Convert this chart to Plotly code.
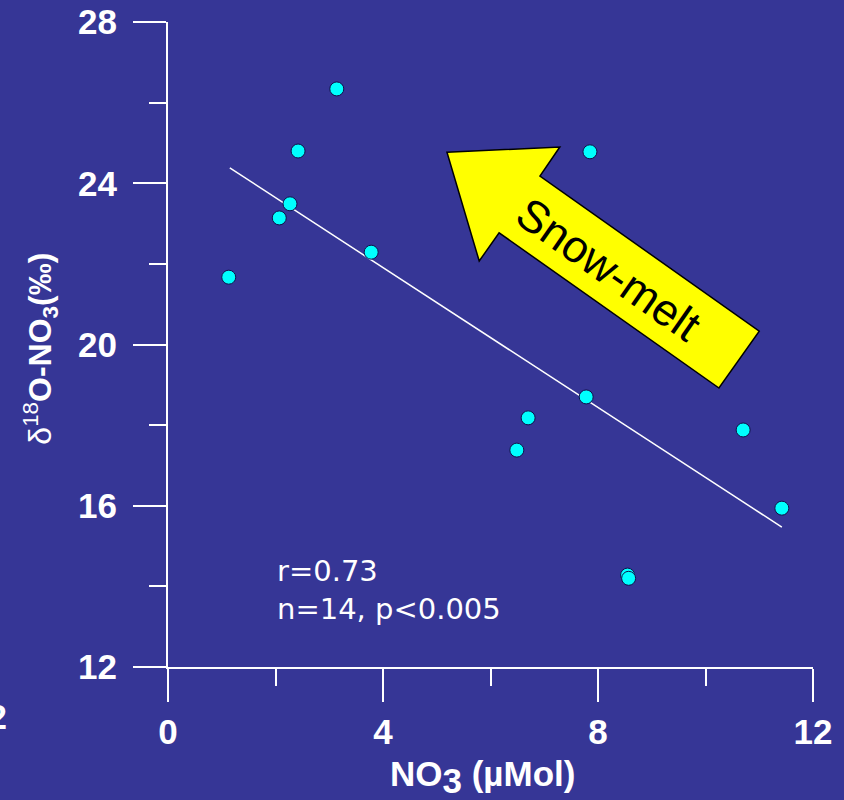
import plotly.graph_objects as go

# Data
no3 = [1.13, 2.07, 2.27, 2.42, 3.14, 3.78, 6.49, 6.70, 7.78, 7.85, 8.55, 8.57, 10.70, 11.42]
d18o = [21.67, 23.14, 23.49, 24.80, 26.34, 22.29, 17.38, 18.18, 18.70, 24.78, 14.28, 14.20, 17.88, 15.94]

fit_x = [1.15, 11.42]
fit_y = [24.38, 15.47]

x_ticks = [0, 4, 8, 12]
y_ticks = [12, 16, 20, 24, 28]

# arrow outline (data coordinates)
arrow_x = [5.19, 7.29, 6.92, 11.00, 10.25, 6.16, 5.79]
arrow_y = [24.77, 24.90, 24.18, 20.33, 18.92, 22.77, 22.07]

BG = "#363696"
FONT = "Liberation Sans, Arial, sans-serif"

fig = go.Figure()

fig.add_trace(go.Scatter(x=fit_x, y=fit_y, mode="lines",
                         line=dict(color="white", width=1.5), showlegend=False))
fig.add_trace(go.Scatter(x=no3, y=d18o, mode="markers",
                         marker=dict(size=14, color="#00FFFF",
                                     line=dict(color="#10104a", width=1)),
                         showlegend=False))

path = "M " + " L ".join(f"{x},{y}" for x, y in zip(arrow_x, arrow_y)) + " Z"
fig.add_shape(type="path", path=path, xref="x", yref="y",
              fillcolor="#FFFF00", line=dict(color="black", width=1.5), layer="above")

fig.add_annotation(x=8.2, y=21.85, xref="x", yref="y", text="Snow-melt",
                   showarrow=False, textangle=35,
                   font=dict(family=FONT, size=45, color="black"))

fig.add_annotation(x=1.99, y=14.85, xref="x", yref="y", xanchor="left", yanchor="top",
                   text="r=0.73<br>n=14, p&lt;0.005", align="left", showarrow=False,
                   font=dict(family="DejaVu Sans, sans-serif", size=29, color="white"))

fig.add_annotation(x=0.488, y=-0.1705, xref="paper", yref="paper",
                   text="<b>NO<sub><span style='font-size:35px'>3</span></sub> (µMol)</b>",
                   showarrow=False, xanchor="center", yanchor="middle",
                   font=dict(family=FONT, size=35, color="white"))
fig.add_annotation(x=-0.198, y=0.494, xref="paper", yref="paper",
                   text="δ<sup>18</sup><b>O-NO<sub>3</sub>(‰)</b>", showarrow=False,
                   textangle=-90, xanchor="center", yanchor="middle",
                   font=dict(family=FONT, size=32, color="white"))
fig.add_annotation(x=-0.2465, y=-0.076, xref="paper", yref="paper",
                   text="<b>12</b>", showarrow=False, xanchor="right", yanchor="middle",
                   font=dict(family=FONT, size=35, color="white"))

axis_common = dict(showgrid=False, zeroline=False, showline=True, linecolor="white",
                   linewidth=2, ticks="outside", ticklen=33, tickwidth=2, tickcolor="white",
                   tickfont=dict(family=FONT, size=35, color="white"), automargin=False,
                   minor=dict(ticks="outside", ticklen=17, tickwidth=2, tickcolor="white", dtick=2))

fig.update_xaxes(range=[0, 12], tickvals=x_ticks, ticktext=[f"<b>{v}</b>" for v in x_ticks],
                 **axis_common)
fig.update_yaxes(range=[12, 28], tickvals=y_ticks, ticktext=[f"<b>{v}</b>" for v in y_ticks],
                 ticklabelstandoff=9, **axis_common)

fig.update_layout(width=844, height=800, paper_bgcolor=BG, plot_bgcolor=BG,
                  margin=dict(l=168, r=31, t=22, b=133, autoexpand=False), showlegend=False)

fig.write_html("out.html", config={"displayModeBar": False},
               post_script="document.body.style.margin='0';")
